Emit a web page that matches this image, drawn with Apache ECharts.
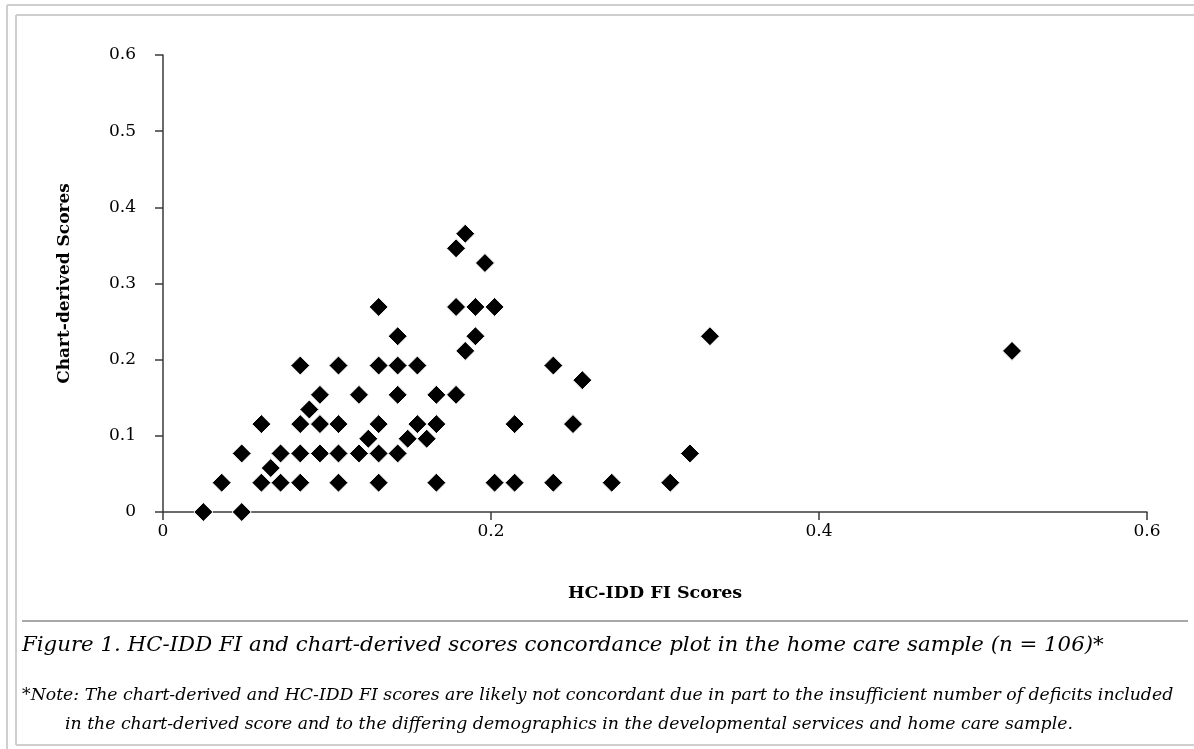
<!DOCTYPE html>
<html>
<head>
<meta charset="utf-8">
<script src="https://cdn.jsdelivr.net/npm/echarts@6/dist/echarts.min.js"></script>
<style>
html,body{margin:0;padding:0;background:#fff;}
#chart{width:1194px;height:749px;}
</style>
</head>
<body>
<div id="chart"></div>
<script>
// HC-IDD FI scores (x) and chart-derived scores (y), one entry per visible marker
const hcIddScores = [
  0.0246, 0.048,
  0.0358, 0.060, 0.0717, 0.0837, 0.107, 0.1315, 0.1667, 0.2022, 0.2144, 0.238, 0.2736, 0.3093,
  0.0657,
  0.048, 0.0717, 0.0837, 0.0957, 0.107, 0.1195, 0.1315, 0.1431, 0.3213,
  0.1252, 0.1492, 0.1608,
  0.060, 0.0837, 0.0957, 0.107, 0.1315, 0.1551, 0.1667, 0.2144, 0.25,
  0.0892,
  0.0957, 0.1195, 0.1431, 0.1667, 0.1787,
  0.2557,
  0.0837, 0.107, 0.1315, 0.1431, 0.1551, 0.238,
  0.1843, 0.5177,
  0.1431, 0.1905, 0.3335,
  0.1315, 0.1787, 0.1905, 0.2022,
  0.1963,
  0.1787,
  0.1843
];
const chartScores = [
  0, 0,
  0.0385, 0.0385, 0.0385, 0.0385, 0.0385, 0.0385, 0.0385, 0.0385, 0.0385, 0.0385, 0.0385, 0.0385,
  0.0577,
  0.0769, 0.0769, 0.0769, 0.0769, 0.0769, 0.0769, 0.0769, 0.0769, 0.0769,
  0.0962, 0.0962, 0.0962,
  0.1154, 0.1154, 0.1154, 0.1154, 0.1154, 0.1154, 0.1154, 0.1154, 0.1154,
  0.1346,
  0.1538, 0.1538, 0.1538, 0.1538, 0.1538,
  0.1731,
  0.1923, 0.1923, 0.1923, 0.1923, 0.1923, 0.1923,
  0.2115, 0.2115,
  0.2308, 0.2308, 0.2308,
  0.2692, 0.2692, 0.2692, 0.2692,
  0.3269,
  0.3462,
  0.3654
];
const xTicks = [0, 0.2, 0.4, 0.6];
const yTicks = [0, 0.1, 0.2, 0.3, 0.4, 0.5, 0.6];
const xTitle = 'HC-IDD FI Scores';
const yTitle = 'Chart-derived Scores';
const captionText = 'Figure 1. HC-IDD FI and chart-derived scores concordance plot in the home care sample (n = 106)*';
const noteLine1 = '*Note: The chart-derived and HC-IDD FI scores are likely not concordant due in part to the insufficient number of deficits included';
const noteLine2 = 'in the chart-derived score and to the differing demographics in the developmental services and home care sample.';

const FONT = '"DejaVu Serif", serif';
const NOTE_FONT = 'italic 17.3px ' + FONT;
const points = hcIddScores.map((x, i) => [x, chartScores[i]]);
const fmt = v => (Math.abs(v) < 1e-9 ? '0' : (Math.round(v * 10) / 10).toFixed(1));

const chart = echarts.init(document.getElementById('chart'), null, {renderer: 'canvas'});
chart.setOption({
  animation: false,
  backgroundColor: '#fff',
  grid: {left: 163, right: 47, top: 55, bottom: 237, containLabel: false},
  xAxis: {
    type: 'value', min: xTicks[0], max: xTicks[xTicks.length - 1], interval: 0.2,
    name: xTitle, nameLocation: 'middle', nameGap: 72,
    nameTextStyle: {fontFamily: FONT, fontWeight: 'bold', fontSize: 17.5, color: '#000'},
    axisLine: {show: true, lineStyle: {color: '#3a3a3a', width: 1.5}},
    axisTick: {show: true, inside: false, length: 8, lineStyle: {color: '#3a3a3a', width: 1.5}},
    axisLabel: {fontFamily: FONT, fontSize: 17, color: '#000', margin: 11, formatter: fmt},
    splitLine: {show: false}
  },
  yAxis: {
    type: 'value', min: yTicks[0], max: yTicks[yTicks.length - 1], interval: 0.1,
    name: yTitle, nameLocation: 'middle', nameGap: 90, nameRotate: 90,
    nameTextStyle: {fontFamily: FONT, fontWeight: 'bold', fontSize: 17, color: '#000'},
    axisLine: {show: true, lineStyle: {color: '#3a3a3a', width: 1.5}},
    axisTick: {show: true, inside: false, length: 8, lineStyle: {color: '#3a3a3a', width: 1.5}},
    axisLabel: {fontFamily: FONT, fontSize: 17, color: '#000', margin: 27, formatter: fmt},
    splitLine: {show: false}
  },
  series: [{
    type: 'scatter',
    data: points,
    symbol: 'diamond',
    symbolSize: 19,
    itemStyle: {color: '#000', borderColor: '#fff', borderWidth: 1, opacity: 1},
    z: 3
  }],
  graphic: [
    // outer and inner frame (open at right)
    {type: 'line', shape: {x1: 7, y1: 5, x2: 1194, y2: 5}, style: {stroke: '#cfcfcf', lineWidth: 2}, silent: true},
    {type: 'line', shape: {x1: 7, y1: 5, x2: 7, y2: 749}, style: {stroke: '#cfcfcf', lineWidth: 2}, silent: true},
    {type: 'line', shape: {x1: 16, y1: 15, x2: 1194, y2: 15}, style: {stroke: '#cfcfcf', lineWidth: 2}, silent: true},
    {type: 'line', shape: {x1: 16, y1: 15, x2: 16, y2: 745}, style: {stroke: '#cfcfcf', lineWidth: 2}, silent: true},
    {type: 'line', shape: {x1: 16, y1: 745, x2: 1194, y2: 745}, style: {stroke: '#cfcfcf', lineWidth: 2}, silent: true},
    // separator above caption
    {type: 'line', shape: {x1: 22, y1: 621, x2: 1188, y2: 621}, style: {stroke: '#a8a8a8', lineWidth: 2}, silent: true},
    {type: 'text', left: 22, top: 635, style: {text: captionText, font: 'italic 21.3px ' + FONT, fill: '#000'}, silent: true},
    {type: 'text', left: 22, top: 687, style: {text: noteLine1, font: NOTE_FONT, fill: '#000'}, silent: true},
    {type: 'text', left: 65, top: 716, style: {text: noteLine2, font: NOTE_FONT, fill: '#000'}, silent: true}
  ]
});
</script>
</body>
</html>
